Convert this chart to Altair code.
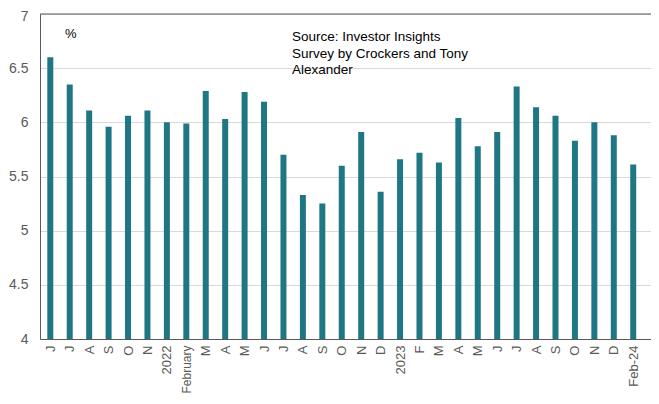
import altair as alt
import pandas as pd
import json

labels = ["J", "J", "A", "S", "O", "N", "2022", "February", "M", "A", "M", "J",
          "J", "A", "S", "O", "N", "D", "2023", "F", "M", "A", "M", "J",
          "J", "A", "S", "O", "N", "D", "Feb-24"]
values = [6.60, 6.35, 6.11, 5.96, 6.06, 6.11, 6.00, 5.99, 6.29, 6.03, 6.28, 6.19,
          5.70, 5.33, 5.25, 5.60, 5.91, 5.36, 5.66, 5.72, 5.63, 6.04, 5.78, 5.91,
          6.33, 6.14, 6.06, 5.83, 6.00, 5.88, 5.61]
y_ticks = [4, 4.5, 5, 5.5, 6, 6.5, 7]
source_lines = ["Source: Investor Insights", "Survey by Crockers and Tony", "Alexander"]

df = pd.DataFrame({"idx": list(range(len(values))), "label": labels, "value": values})

FONT = "Liberation Sans"
GRAY = "#595959"
BAR = "#1f7785"
W = 611
H = 325

label_expr = "(" + json.dumps(labels) + ")[datum.value]"

x_enc = alt.X("idx:Q",
              scale=alt.Scale(domain=[-0.53, 30.915], nice=False, zero=False, padding=0),
              axis=alt.Axis(values=list(range(len(labels))), labelExpr=label_expr,
                            labelAngle=-90, labelAlign="right", labelBaseline="middle",
                            labelPadding=6, ticks=False, grid=False, domainColor=GRAY,
                            labelColor=GRAY,
                            labelFontSize={"condition": {"test": "datum.value == 7", "value": 12},
                                           "value": 13},
                            labelFont=FONT,
                            labelOverlap=False, labelFlush=False, title=None))
y_enc = alt.Y("value:Q",
              scale=alt.Scale(domain=[4, 7], nice=False, zero=False),
              axis=alt.Axis(values=y_ticks, format="~g", ticks=False, grid=True,
                            gridColor="#d9d9d9", domainColor=GRAY, labelColor=GRAY,
                            labelFontSize=14, labelFont=FONT, labelPadding=12,
                            labelOffset={"condition": {"test": "datum.value == 7", "value": 2},
                                         "value": 0},
                            labelFlush=False, title=None))

bars = alt.Chart(df).mark_bar(size=6, color=BAR).encode(
    x=x_enc, y=y_enc, y2=alt.datum(4)
)

top_line = alt.Chart(df).mark_rule(color=GRAY, strokeWidth=1).encode(
    x=alt.value(0), x2=alt.value(W), y=alt.value(0)
).transform_filter("datum.idx == 0")

pct = alt.Chart(df).transform_filter("datum.idx == 0").mark_text(
    text="%", font=FONT, fontSize=13, color="black", align="left", baseline="alphabetic"
).encode(x=alt.value(25), y=alt.value(24))

layers = [bars, top_line, pct]
for i, line in enumerate(source_lines):
    layers.append(
        alt.Chart(df).transform_filter("datum.idx == 0").mark_text(
            text=line, font=FONT, fontSize=13.5, color="black", align="left",
            baseline="alphabetic"
        ).encode(x=alt.value(252), y=alt.value(27 + 16.7 * i))
    )

chart = alt.layer(*layers).properties(
    width=W, height=H,
    autosize=alt.AutoSizeParams(type="none"),
    padding={"left": 32, "top": 6, "right": 0, "bottom": 55},
).configure_view(stroke=None).configure(background="white")

chart.save("out.html", embed_options={"renderer": "svg", "actions": False})
